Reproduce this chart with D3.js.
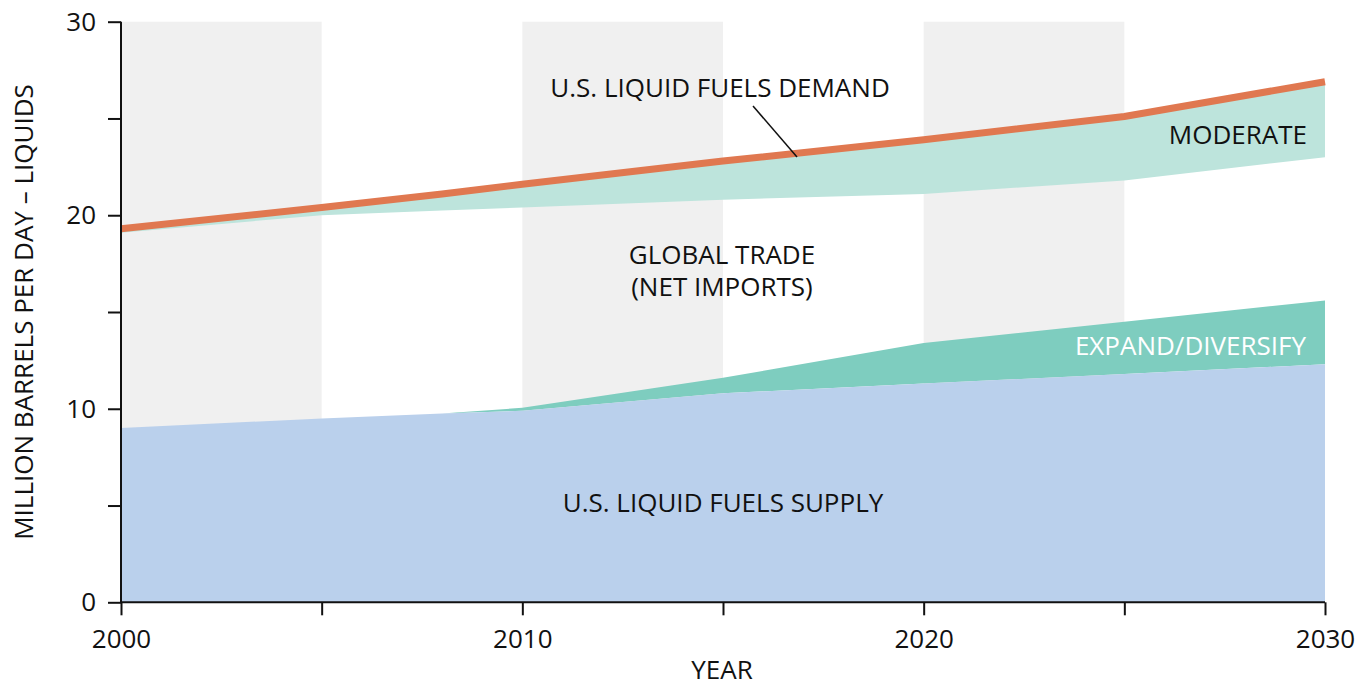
<!DOCTYPE html>
<html><head><meta charset="utf-8">
<script src="https://cdn.jsdelivr.net/npm/d3@7"></script>
<style>
body{margin:0;background:#fff;}
text{font-family:"Open Sans","Noto Sans",sans-serif;fill:#111;}
</style></head>
<body><svg id="c" width="1356" height="683"></svg>
<script>
const years = [2000, 2005, 2008, 2010, 2015, 2020, 2025, 2030];
const demand = [19.3, 20.4, 21.1, 21.6, 22.8, 23.9, 25.1, 26.9];
const moderateLow = [19.1, 20.0, 20.25, 20.4, 20.8, 21.1, 21.8, 23.0];
const expandTop = [9.0, 9.5, 9.75, 10.05, 11.6, 13.4, 14.5, 15.6];
const supply = [9.0, 9.5, 9.75, 9.9, 10.8, 11.3, 11.8, 12.3];
const shadeBands = [[2000, 2005], [2010, 2015], [2020, 2025]];
const xTicksMajor = [2000, 2010, 2020, 2030];
const xTicksMinor = [2005, 2015, 2025];
const yTicksMajor = [0, 10, 20, 30];
const yTicksMinor = [5, 15, 25];

const svg = d3.select("#c");
const x = d3.scaleLinear().domain([2000, 2030]).range([121, 1325]);
const y = d3.scaleLinear().domain([0, 30]).range([602.3, 21.7]);

// shaded bands
svg.selectAll("rect.band").data(shadeBands).join("rect")
  .attr("x", d => x(d[0])).attr("width", d => x(d[1]) - x(d[0]))
  .attr("y", y(30)).attr("height", y(0) - y(30)).attr("fill", "#f0f0f0");

const idx = d3.range(years.length);
const area = (lo, hi) => d3.area().x(i => x(years[i])).y0(i => y(lo[i])).y1(i => y(hi[i]));
const zeros = years.map(() => 0);

svg.append("path").datum(idx).attr("d", area(moderateLow, demand)).attr("fill", "#bde4dc");
svg.append("path").datum(idx).attr("d", area(supply, expandTop)).attr("fill", "#7ecdbf");
svg.append("path").datum(idx).attr("d", area(zeros, supply)).attr("fill", "#bad0ec");

svg.append("path").datum(idx)
  .attr("d", d3.line().x(i => x(years[i])).y(i => y(demand[i])))
  .attr("fill", "none").attr("stroke", "#e07850").attr("stroke-width", 7);

// axes
const fs = 26;
const yAxis = svg.append("g").attr("transform", `translate(${x(2000)},0)`)
  .call(d3.axisLeft(y).tickValues(yTicksMajor).tickSize(13).tickPadding(12).tickFormat(d3.format("d")));
svg.append("g").attr("transform", `translate(${x(2000)},0)`)
  .call(d3.axisLeft(y).tickValues(yTicksMinor).tickSize(13).tickFormat(""))
  .select(".domain").remove();
const xAxis = svg.append("g").attr("transform", `translate(0,${y(0)})`)
  .call(d3.axisBottom(x).tickValues(xTicksMajor).tickSize(13).tickPadding(14).tickFormat(d3.format("d")));
svg.append("g").attr("transform", `translate(0,${y(0)})`)
  .call(d3.axisBottom(x).tickValues(xTicksMinor).tickSize(13).tickFormat(""))
  .select(".domain").remove();
svg.selectAll(".domain, .tick line").attr("stroke", "#111").attr("stroke-width", 2);
yAxis.select(".domain").attr("d", `M0,${y(30)}V${y(0)}`);
xAxis.select(".domain").attr("d", `M${x(2000)},0H${x(2030)}`);
svg.selectAll(".tick text").attr("font-size", fs).attr("font-family", "Open Sans").attr("fill", "#111");

// axis titles
svg.append("text").attr("x", 722).attr("y", 679).attr("text-anchor", "middle").attr("font-size", fs).text("YEAR");
svg.append("text").attr("transform", `translate(33,${(y(0)+y(30))/2}) rotate(-90)`)
  .attr("text-anchor", "middle").attr("font-size", fs).text("MILLION BARRELS PER DAY – LIQUIDS");

// labels
const lab = (t, xx, yy, anchor, col) => svg.append("text").attr("x", xx).attr("y", yy)
  .attr("text-anchor", anchor).attr("font-size", fs).attr("fill", col || "#111").style("fill", col || "#111").text(t);
lab("U.S. LIQUID FUELS DEMAND", 720, 97, "middle");
lab("MODERATE", 1307, 144, "end");
lab("GLOBAL TRADE", 722, 264, "middle");
lab("(NET IMPORTS)", 722, 296, "middle");
lab("EXPAND/DIVERSIFY", 1306, 355, "end", "#ffffff");
lab("U.S. LIQUID FUELS SUPPLY", 723, 512, "middle");
svg.append("line").attr("x1", 753).attr("y1", 106).attr("x2", 797).attr("y2", 157)
  .attr("stroke", "#111").attr("stroke-width", 1.5);
</script></body></html>
